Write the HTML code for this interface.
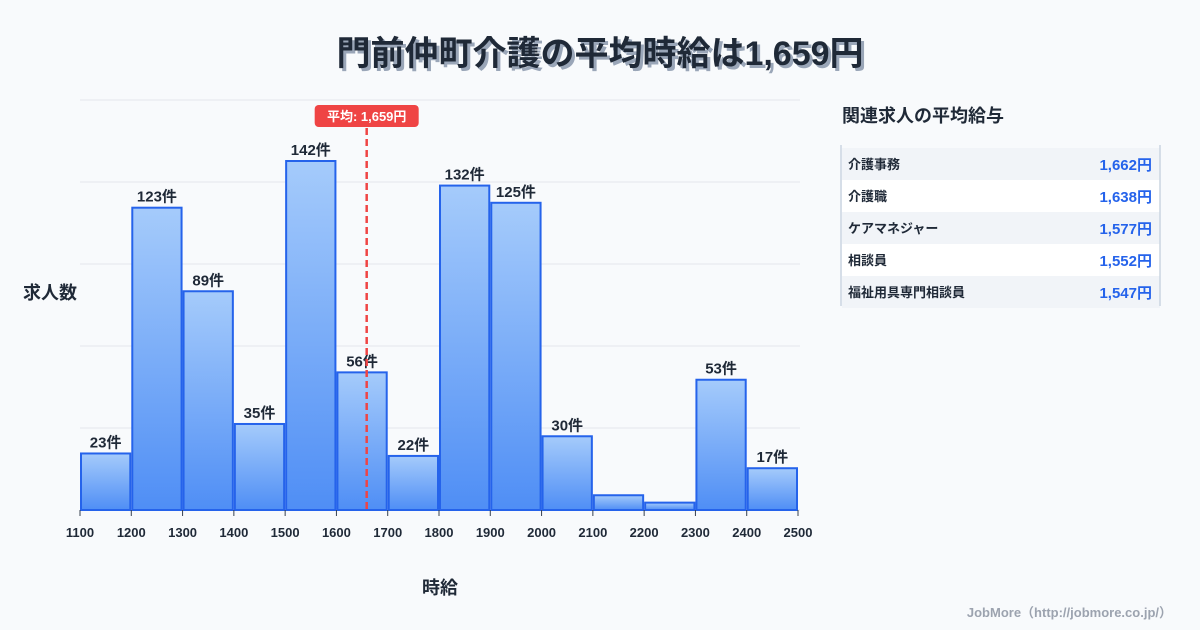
<!DOCTYPE html>
<html><head><meta charset="utf-8"><style>
body{margin:0;background:#f8fafc;font-family:"Liberation Sans","Noto Sans CJK JP",sans-serif;}
#wrap{position:relative;width:1200px;height:630px;overflow:hidden;background:#f8fafc;}
svg text{font-family:"Liberation Sans","Noto Sans CJK JP",sans-serif;}
</style></head><body>
<div id="wrap">
<svg id="svg" width="1200" height="630">
<defs><linearGradient id="g" x1="0" y1="0" x2="0" y2="1"><stop offset="0" stop-color="#a5cbfb"/><stop offset="1" stop-color="#4f8ef5"/></linearGradient></defs>
<text x="603" y="68" text-anchor="middle" font-size="34" font-weight="bold" fill="#9aa6b8">門前仲町介護の平均時給は1,659円</text>
<text x="600" y="65" text-anchor="middle" font-size="34" font-weight="bold" fill="#1f2937">門前仲町介護の平均時給は1,659円</text>
<g id="grid"></g><g id="bars"></g><g id="xt"></g>
<text x="50" y="299" text-anchor="middle" font-size="18" font-weight="bold" fill="#1f2937">求人数</text>
<text x="440" y="594" text-anchor="middle" font-size="18" font-weight="bold" fill="#1f2937">時給</text>
<g id="avg"></g>
<text x="842" y="122" font-size="18" font-weight="bold" fill="#1f2937">関連求人の平均給与</text>
<g id="tbl"></g>
<text x="1172" y="617" text-anchor="end" font-size="13" font-weight="bold" fill="#9ca3af">JobMore（http://jobmore.co.jp/）</text>
</svg></div>
<script>
const binStarts=[1100,1200,1300,1400,1500,1600,1700,1800,1900,2000,2100,2200,2300,2400];
const counts=[23,123,89,35,142,56,22,132,125,30,6,3,53,17];
const xTicks=[1100,1200,1300,1400,1500,1600,1700,1800,1900,2000,2100,2200,2300,2400,2500];
const avgValue=1659;
const jobs=["介護事務","介護職","ケアマネジャー","相談員","福祉用具専門相談員"];
const wages=["1,662円","1,638円","1,577円","1,552円","1,547円"];
const NS="http://www.w3.org/2000/svg";
const x=v=>80+(v-1100)*(718/1400);
const y0=510,k=349/142;
const y=v=>y0-v*k;
function mk(t,a,p){const e=document.createElementNS(NS,t);for(const q in a)e.setAttribute(q,a[q]);p.appendChild(e);return e;}
const grid=document.getElementById('grid');
for(let i=0;i<6;i++){const gy=y0-i*82;const l=mk('line',{x1:80,x2:800,y1:gy,y2:gy,stroke:'#e5e7eb','stroke-width':1},grid);

}
const bars=document.getElementById('bars');
binStarts.forEach((b,i)=>{const x1=x(b)+1,x2=x(b+100)-1;const r=mk('rect',{x:x1,y:y(counts[i]),width:x2-x1,height:y0-y(counts[i]),fill:'url(#g)',stroke:'#2563eb','stroke-width':2},bars);


if(counts[i]>=10){const t=mk('text',{x:(x1+x2)/2,y:y(counts[i])-6,'text-anchor':'middle','font-size':15,'font-weight':'bold',fill:'#1f2937'},bars);t.textContent=counts[i]+'件';

}});
const xt=document.getElementById('xt');
xTicks.forEach(v=>{const l=mk('line',{x1:x(v),x2:x(v),y1:y0,y2:y0+6,stroke:'#374151','stroke-width':1},xt);


const t=mk('text',{x:x(v),y:537,'text-anchor':'middle','font-size':13,'font-weight':'bold',fill:'#1f2937'},xt);t.textContent=v;

});
const avg=document.getElementById('avg');const ax=x(avgValue);
const al=mk('line',{x1:ax,x2:ax,y1:128,y2:510,stroke:'#ef4444','stroke-width':2.5,'stroke-dasharray':'7,4'},avg);


const ar=mk('rect',{x:ax-52,y:105,width:104,height:22,rx:4,fill:'#ef4444'},avg);


const at=mk('text',{x:ax,y:121,'text-anchor':'middle','font-size':13,'font-weight':'bold',fill:'#fff'},avg);at.textContent='平均: 1,659円';


const tbl=document.getElementById('tbl');
jobs.forEach((j,i)=>{const ry=148+i*32;const r=mk('rect',{x:842,y:ry,width:318,height:32,fill:i%2?'#ffffff':'#f1f4f8'},tbl);


const t=mk('text',{x:848,y:ry+21,'font-size':13,'font-weight':'bold',fill:'#1f2937'},tbl);t.textContent=j;


const w=mk('text',{x:1152,y:ry+22,'text-anchor':'end','font-size':15,'font-weight':'bold',fill:'#2563eb'},tbl);w.textContent=wages[i];

});
[841,1160].forEach(lx=>{const l=mk('line',{x1:lx,x2:lx,y1:145,y2:306,stroke:'#cbd5e1','stroke-width':1.5},tbl);

});
</script></body></html>
